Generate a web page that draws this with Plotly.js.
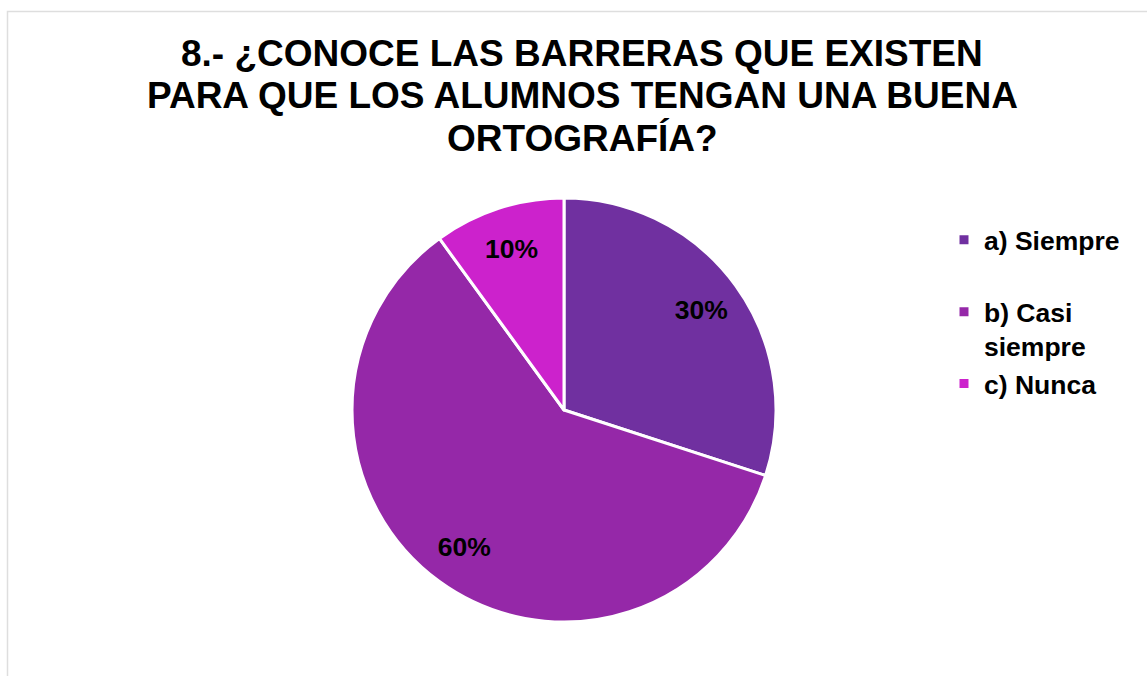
<!DOCTYPE html>
<html>
<head>
<meta charset="utf-8">
<script src="https://cdn.plot.ly/plotly-3.0.1.min.js"></script>
<style>html,body{margin:0;padding:0;background:#fff;}#chart{width:1147px;height:676px;}</style>
</head>
<body>
<div id="chart"></div>
<script>
const categories = ["a) Siempre", "b) Casi siempre", "c) Nunca"];
const legendLabels = ["a) Siempre<br> ", "b) Casi<br>siempre", "c) Nunca"];
const values = [30, 60, 10];
const colors = ["#7030A0", "#9528A8", "#CC22CC"];
const titleLines = ["8.- ¿CONOCE LAS BARRERAS QUE EXISTEN", "PARA QUE LOS ALUMNOS TENGAN UNA BUENA", "ORTOGRAFÍA?"];

const W = 1147, H = 676;
const cx = 564, cy = 410, r = 212;
const FONT = "Liberation Sans, Arial, sans-serif";
const domain = {x: [(cx - r) / W, (cx + r) / W], y: [1 - (cy + r) / H, 1 - (cy - r) / H]};

const slices = {
  type: "pie",
  labels: legendLabels,
  values: values,
  hovertext: categories,
  sort: false,
  direction: "clockwise",
  rotation: 0,
  marker: {colors: colors, line: {color: "#ffffff", width: 3}},
  textinfo: "none",
  domain: domain
};

// transparent ring overlay used only to place the percentage labels further out
const labelRing = {
  type: "pie",
  labels: legendLabels,
  values: values,
  sort: false,
  direction: "clockwise",
  rotation: 0,
  hole: 0.6,
  showlegend: false,
  marker: {colors: ["rgba(0,0,0,0)", "rgba(0,0,0,0)", "rgba(0,0,0,0)"], line: {width: 0}},
  textinfo: "percent",
  textposition: "inside",
  insidetextorientation: "horizontal",
  textfont: {family: FONT, size: 26.5, color: "#000000", weight: "bold"},
  domain: domain
};

const titleY = [53, 95, 138];
const annotations = titleLines.map((t, i) => ({
  text: t, xref: "paper", yref: "paper", x: 582 / W, y: 1 - titleY[i] / H,
  xanchor: "center", yanchor: "middle", showarrow: false,
  font: {family: FONT, size: 37, color: "#000000", weight: "bold"}
}));

const layout = {
  width: W, height: H,
  margin: {l: 0, r: 0, t: 0, b: 0},
  paper_bgcolor: "#ffffff",
  font: {family: FONT, color: "#000000"},
  annotations: annotations,
  showlegend: true,
  legend: {
    x: (984 - 40) / W, xanchor: "left",
    y: 1 - 216 / H, yanchor: "top",
    valign: "top",
    font: {family: FONT, size: 26.5, color: "#000000", weight: "bold"},
    bgcolor: "rgba(0,0,0,0)"
  },
  shapes: [{
    type: "rect", xref: "paper", yref: "paper",
    x0: 7.5 / W, x1: 1.02, y0: -0.02, y1: 1 - 11.5 / H,
    line: {color: "#dedede", width: 1.5}, fillcolor: "rgba(0,0,0,0)", layer: "below"
  }]
};

Plotly.newPlot("chart", [slices, labelRing], layout, {displayModeBar: false, staticPlot: true});
</script>
</body>
</html>
